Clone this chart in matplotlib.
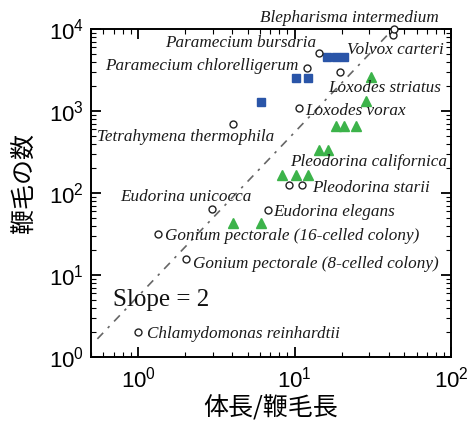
#!/usr/bin/env python3
"""Flagella number vs body length / flagellum length (log-log)."""
import numpy as np
import matplotlib
matplotlib.use("Agg")
import matplotlib.pyplot as plt

plt.rcParams.update({
    "font.family": ["Liberation Sans", "Noto Sans CJK JP"],
    "font.size": 14,
    "axes.linewidth": 1.4,
})

# open circles: species / colonies
circ_x = [1.0, 2.03, 1.35, 2.96, 6.8, 9.2, 11.2, 4.03, 10.6, 12.0, 14.3, 19.5, 42.2, 43.2]
circ_y = [2, 15.5, 31.6, 63, 62, 125, 125, 694, 1079, 3317, 5055, 3015, 8450, 10000]

# blue squares
sq_x = [6.08, 10.2, 12.2, 16.2, 18.3, 20.7]
sq_y = [1277, 2505, 2505, 4560, 4560, 4560]

# green triangles
tri_x = [4.03, 6.08, 8.3, 10.2, 12.2, 14.4, 16.4, 18.3, 20.7, 24.6, 28.6, 30.8]
tri_y = [42.7, 42.7, 166, 166, 166, 334, 334, 656, 656, 656, 1336, 2577]

# slope-2 guide line y = A * x^2
slope_A = 5.5
slope_xrange = [0.55, 44]

names = [
    "Blepharisma intermedium",
    "Paramecium bursaria",
    "Volvox carteri",
    "Paramecium chlorelligerum",
    "Loxodes striatus",
    "Loxodes vorax",
    "Tetrahymena thermophila",
    "Pleodorina californica",
    "Pleodorina starii",
    "Eudorina unicocca",
    "Eudorina elegans",
    "Gonium pectorale (16-celled colony)",
    "Gonium pectorale (8-celled colony)",
    "Chlamydomonas reinhardtii",
]
# label anchor (left, centre) in data coords
name_pos = [
    (6.0, 13600), (1.49, 6750), (21.6, 5545), (0.615, 3540),
    (16.4, 1905), (11.7, 1000), (0.547, 482), (9.36, 239),
    (12.9, 115), (0.767, 89), (7.29, 58.6), (1.49, 29.9),
    (2.25, 13.6), (1.14, 1.91),
]


def main():
    fig = plt.figure(figsize=(4.76, 4.25), dpi=100)
    ax = fig.add_axes([0.191, 0.16, 0.757, 0.772])
    ax.set_xscale("log")
    ax.set_yscale("log")
    ax.set_xlim(0.5, 100)
    ax.set_ylim(1, 1e4)

    xs = np.array(slope_xrange)
    ax.plot(xs, slope_A * xs ** 2, color="#666666", lw=1.2,
            dashes=(5, 4, 1.5, 4), zorder=1)

    ax.plot(sq_x, sq_y, "s", ms=6.4, color="#2a55a8", mec="#2a55a8", zorder=3)
    ax.plot(tri_x, tri_y, "^", ms=7.5, color="#3cb34a", mec="#3cb34a", zorder=3)
    ax.plot(circ_x, circ_y, "o", ms=5.0, mfc="white", mec="#222222", mew=1.0,
            zorder=4, clip_on=False)

    for name, (x, y) in zip(names, name_pos):
        ax.text(x, y, name, family="Liberation Serif", style="italic",
                fontsize=12.3, ha="left", va="center", color="#1a1a1a", zorder=5)
    ax.text(0.692, 4.96, "Slope = 2", family="Liberation Serif", fontsize=18,
            ha="left", va="center", color="#111111")

    ax.tick_params(which="both", direction="in", top=True, right=True)
    ax.tick_params(which="major", length=7, width=1.3, labelsize=16)
    ax.tick_params(axis="x", which="major", pad=7)
    ax.tick_params(axis="y", which="major", pad=5)
    ax.tick_params(which="minor", length=3.5, width=0.8)

    ax.set_xlabel("体長/鞭毛長", family=["Noto Sans CJK JP", "DejaVu Sans"],
                  fontsize=18, labelpad=2)
    ax.set_ylabel("鞭毛の数", family=["Noto Sans CJK JP", "DejaVu Sans"],
                  fontsize=18)
    ax.yaxis.set_label_coords(-0.15, 0.53)

    fig.savefig("out.png", dpi=100)
    plt.close(fig)


if __name__ == "__main__":
    main()
